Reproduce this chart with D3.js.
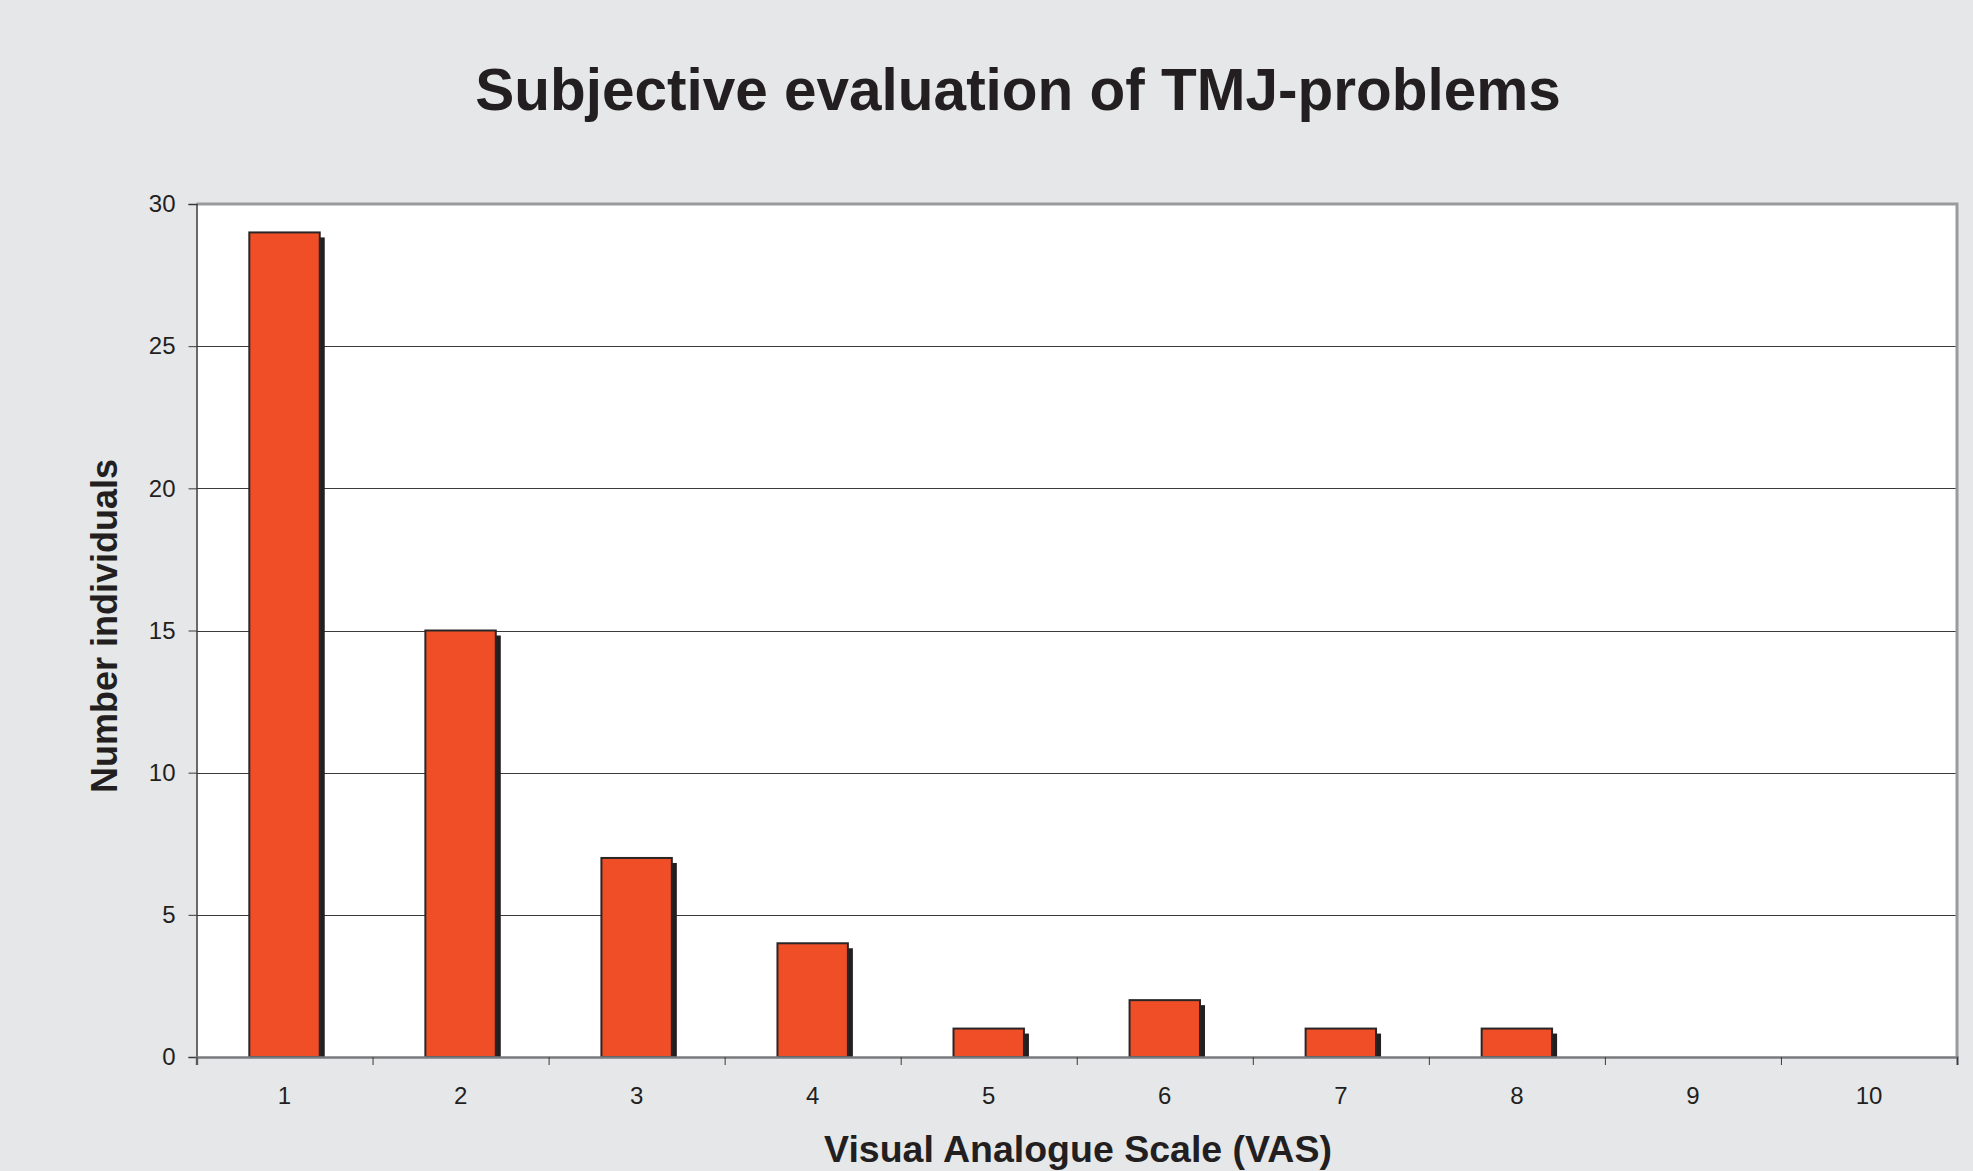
<!DOCTYPE html>
<html>
<head>
<meta charset="utf-8">
<script src="https://cdn.jsdelivr.net/npm/d3@7"></script>
<style>
html,body{margin:0;padding:0;background:#e6e7e9;}
svg{display:block;font-family:"Liberation Sans",Arial,sans-serif;}
</style>
</head>
<body>
<svg id="chart" width="1973" height="1171"></svg>
<script>
const categories = ["1","2","3","4","5","6","7","8","9","10"];
const values = [29, 15, 7, 4, 1, 2, 1, 1, 0, 0];
const yTicks = [0, 5, 10, 15, 20, 25, 30];
const title = "Subjective evaluation of TMJ-problems";
const xTitle = "Visual Analogue Scale (VAS)";
const yTitle = "Number individuals";

const svg = d3.select("#chart");
const m = {left: 196.5, right: 1957, top: 204, bottom: 1057};

svg.append("rect").attr("width",1973).attr("height",1171).attr("fill","#e6e7e9");

const x = d3.scaleBand().domain(categories).range([m.left, m.right]).paddingInner(0.6).paddingOuter(0.3);
const xEdge = d3.scaleLinear().domain([0, categories.length]).range([m.left, m.right]);
const y = d3.scaleLinear().domain([0, 30]).range([m.bottom, m.top]);

// plot area
svg.append("rect").attr("x", m.left).attr("y", m.top)
  .attr("width", m.right - m.left).attr("height", m.bottom - m.top).attr("fill", "#ffffff");

// gridlines
svg.append("g").selectAll("line").data(yTicks.filter(d => d > 0 && d < 30)).join("line")
  .attr("x1", m.left).attr("x2", m.right)
  .attr("y1", d => Math.round(y(d)) + 0.5).attr("y2", d => Math.round(y(d)) + 0.5)
  .attr("stroke", "#3a3a3a").attr("stroke-width", 1);

// top and right border
svg.append("path")
  .attr("d", `M${m.left},${m.top} H${m.right} V${m.bottom}`)
  .attr("fill", "none").attr("stroke", "#9a9b9d").attr("stroke-width", 3);

// bars: shadow then bar
const bars = svg.append("g");
const sh = 5;
bars.selectAll("rect.shadow").data(values.map((v,i)=>({v, c: categories[i]})).filter(d => d.v > 0)).join("rect")
  .attr("class","shadow")
  .attr("x", d => x(d.c) + sh).attr("y", d => y(d.v) + sh)
  .attr("width", x.bandwidth()).attr("height", d => m.bottom - y(d.v) - sh)
  .attr("fill", "#231f20");
bars.selectAll("rect.bar").data(values.map((v,i)=>({v, c: categories[i]})).filter(d => d.v > 0)).join("rect")
  .attr("class","bar")
  .attr("x", d => x(d.c)).attr("y", d => y(d.v))
  .attr("width", x.bandwidth()).attr("height", d => m.bottom - y(d.v))
  .attr("fill", "#f04e27").attr("stroke", "#2a2627").attr("stroke-width", 2);

// y axis
const yAxis = svg.append("g").attr("transform", `translate(${m.left},0)`)
  .call(d3.axisLeft(y).tickValues(yTicks).tickSize(8).tickPadding(13).tickFormat(d3.format("d")));
yAxis.select(".domain").attr("stroke", "#3a3a3a").attr("stroke-width", 1.5);
yAxis.selectAll(".tick line").attr("stroke", "#3a3a3a");
yAxis.selectAll("text").attr("font-size", 24).attr("fill", "#231f20")
  .attr("font-family", "'Liberation Sans', Arial, sans-serif");

// x axis: ticks at category boundaries
const xTickAxis = svg.append("g").attr("transform", `translate(0,${m.bottom})`)
  .call(d3.axisBottom(xEdge).tickValues(d3.range(0, categories.length + 1)).tickSize(8).tickFormat(""));
xTickAxis.select(".domain").attr("stroke", "#7a7b7d").attr("stroke-width", 2.5);
xTickAxis.selectAll(".tick line").attr("stroke", "#3a3a3a");

// x labels centered in bands
const xLab = svg.append("g").attr("transform", `translate(0,${m.bottom})`)
  .call(d3.axisBottom(x).tickSize(0).tickPadding(30));
xLab.select(".domain").remove();
xLab.selectAll("text").attr("font-size", 24).attr("fill", "#231f20")
  .attr("font-family", "'Liberation Sans', Arial, sans-serif");

// titles
svg.append("text").attr("x", 1018).attr("y", 110).attr("text-anchor", "middle")
  .attr("font-size", 58.5).attr("font-weight", "bold").attr("fill", "#231f20").text(title);
svg.append("text").attr("x", 1078).attr("y", 1162).attr("text-anchor", "middle")
  .attr("font-size", 37.5).attr("font-weight", "bold").attr("fill", "#231f20").text(xTitle);
svg.append("text").attr("transform", "translate(117,626) rotate(-90)").attr("text-anchor", "middle")
  .attr("font-size", 36).attr("font-weight", "bold").attr("fill", "#231f20").text(yTitle);
</script>
</body>
</html>
